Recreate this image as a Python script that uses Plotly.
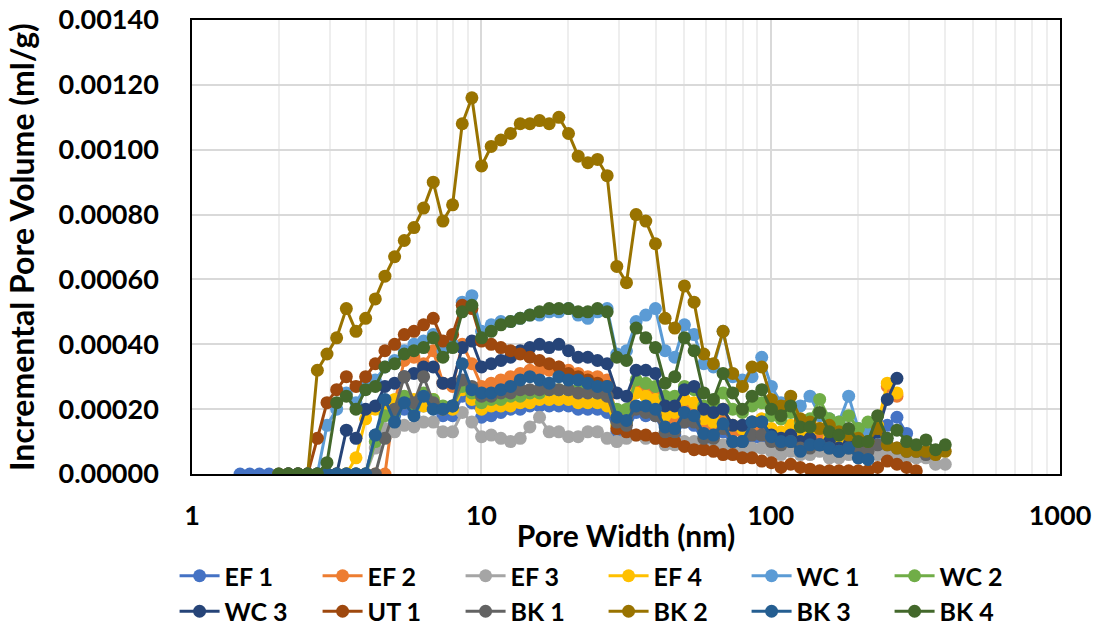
import plotly.graph_objects as go

# Pore width grid (nm) shared by all samples
PORE_WIDTH = [
    1.466, 1.583, 1.710, 1.846, 1.994, 2.153, 2.325, 2.511, 2.712, 2.928,
    3.162, 3.415, 3.688, 3.982, 4.301, 4.644, 5.015, 5.416, 5.849, 6.316,
    6.821, 7.366, 7.955, 8.590, 9.277, 10.018, 10.818, 11.683, 12.617, 13.625,
    14.714, 15.890, 17.160, 18.531, 20.012, 21.611, 23.338, 25.203, 27.217, 29.392,
    31.741, 34.278, 37.017, 39.975, 43.170, 46.620, 50.345, 54.369, 58.713, 63.405,
    68.472, 73.944, 79.853, 86.234, 93.125, 100.57, 108.60, 117.28, 126.65, 136.77,
    147.70, 159.51, 172.25, 186.02, 200.89, 216.94, 234.27, 253.00, 273.21, 295.05,
    318.62, 344.08, 371.58, 401.27,
]

n = None

EF_1 = [0, 0, 0, 0, 0, 0, 0, 0, 0, 0,
        0, 0, 0, 0, 0.00012, 0.00019, 0.00018, 0.00020, 0.00019, 0.00021,
        0.00022, 0.00018, 0.00018, 0.00024, 0.00022, 0.000175, 0.00018, 0.00019, 0.00020, 0.00020,
        0.00021, 0.00021, 0.00021, 0.00021, 0.00021, 0.00020, 0.00020, 0.00020, 0.00019, 0.00013,
        0.00013, 0.00019, 0.00018, 0.00018, 0.00012, 0.00012, 0.00016, 0.00015, 0.00010, 0.00010,
        0.00013, 0.00009, 0.00009, 0.00011, 0.00011, 0.00008, 0.00008, 0.00010, 0.00008, 0.00009,
        0.00010, 0.00008, 0.00008, 0.00009, 0.00006, 0.00005, 0.00012, 0.00015, 0.000175, 0.000125,
        n, n, n, n]

EF_2 = [n, n, n, n, n, 0, 0, 0, 0, 0,
        0, 0, 0, 0, 0, 0, 0.00022, 0.00035, 0.00036, 0.00034,
        0.00038, 0.00028, 0.00027, 0.00040, 0.00034, 0.00027, 0.00028, 0.00029, 0.00030, 0.00031,
        0.00032, 0.00032, 0.00032, 0.00033, 0.00032, 0.00031, 0.00030, 0.00030, 0.00029, 0.00018,
        0.00017, 0.00027, 0.00026, 0.00025, 0.00017, 0.00017, 0.00021, 0.00020, 0.00015, 0.00015,
        0.00017, 0.00013, 0.00013, 0.00014, 0.00014, 0.00012, 0.00011, 0.00013, 0.00011, 0.00011,
        0.00012, 0.00010, 0.00010, 0.00011, 0.00008, 0.00008, 0.00013, 0.00027, 0.00024, n,
        n, n, n, n]

EF_3 = [n, n, n, n, n, 0, 0, 0, 0, 0,
        0, 0, 0, 0, 0.00008, 0.00014, 0.00013, 0.00015, 0.000145, 0.00016,
        0.00016, 0.00013, 0.00013, 0.00019, 0.00016, 0.000115, 0.00012, 0.00011, 0.00010, 0.00011,
        0.000145, 0.000175, 0.00013, 0.00013, 0.000115, 0.000115, 0.00013, 0.00013, 0.00011, 0.00010,
        0.00011, 0.00012, 0.00011, 0.00011, 0.00009, 0.00009, 0.00010, 0.00010, 0.00008, 0.00008,
        0.00009, 0.00007, 0.00007, 0.00008, 0.00008, 0.00007, 0.00006, 0.00007, 0.00006, 0.00006,
        0.00007, 0.00005, 0.00005, 0.00006, 0.00005, 0.00005, 0.00006, 0.00007, 0.00006, 0.00005,
        0.00005, 0.00005, 0.00003, 0.00003]

EF_4 = [n, n, n, n, n, 0, 0, 0, 0, 0,
        0, 0, 0.00005, 0.00017, 0.00020, 0.00021, 0.00023, 0.00022, 0.00023, 0.00021,
        0.00023, 0.00020, 0.00020, 0.00026, 0.00023, 0.00020, 0.00021, 0.00021, 0.00021, 0.00022,
        0.00022, 0.00023, 0.00023, 0.00023, 0.00023, 0.00022, 0.00022, 0.00022, 0.00021, 0.00015,
        0.00016, 0.00025, 0.00024, 0.00023, 0.00018, 0.00019, 0.00023, 0.00022, 0.00017, 0.00016,
        0.00020, 0.00015, 0.00014, 0.00016, 0.00017, 0.00014, 0.00013, 0.00015, 0.00012, 0.00013,
        0.00014, 0.00011, 0.00011, 0.00012, 0.00009, 0.00009, 0.00015, 0.00028, 0.00025, n,
        n, n, n, n]

WC_1 = [n, n, n, n, n, 0, 0, 0, 0, 0.00015,
        0.00020, 0.00025, 0.00022, 0.00027, 0.00029, 0.00033, 0.00035, 0.00038, 0.00040, 0.00041,
        0.00043, 0.00038, 0.00040, 0.00053, 0.00055, 0.00044, 0.00046, 0.00047, 0.00047, 0.00048,
        0.00049, 0.00049, 0.00050, 0.00050, 0.00051, 0.00049, 0.00048, 0.00050, 0.00051, 0.00037,
        0.00038, 0.00047, 0.00049, 0.00051, 0.00038, 0.00036, 0.00046, 0.00043, 0.00034, 0.00033,
        0.00044, 0.00030, 0.00029, 0.00030, 0.00036, 0.00027, 0.00022, 0.00020, 0.00021, 0.00024,
        0.00018, 0.00017, 0.00016, 0.00024, 0.00014, 0.00013, 0.00011, n, n, n,
        n, n, n, n]

WC_2 = [n, n, n, n, n, 0, 0, 0, 0, 0,
        0, 0, 0, 0, 0.00010, 0.00018, 0.00019, 0.00024, 0.00021, 0.00025,
        0.00023, 0.00021, 0.00021, 0.00027, 0.00025, 0.00022, 0.00023, 0.00023, 0.00024, 0.00024,
        0.00025, 0.00025, 0.00026, 0.00026, 0.00026, 0.00026, 0.00026, 0.00025, 0.00025, 0.00020,
        0.00020, 0.00029, 0.00028, 0.00027, 0.00024, 0.00024, 0.00027, 0.00026, 0.00021, 0.00022,
        0.00025, 0.00020, 0.00019, 0.00021, 0.00022, 0.00018, 0.00017, 0.00019, 0.00016, 0.00017,
        0.00023, 0.00017, 0.00016, 0.00018, 0.00014, 0.00016, n, n, n, n,
        n, n, n, n]

WC_3 = [n, n, n, n, n, 0, 0, 0, 0, 0,
        0, 0.000135, 0.00011, 0.00020, 0.00021, 0.00027, 0.00028, 0.00030, 0.00031, 0.00033,
        0.00033, 0.00028, 0.00028, 0.00039, 0.00041, 0.00033, 0.00034, 0.00035, 0.00036, 0.00038,
        0.00039, 0.00040, 0.00039, 0.00040, 0.00038, 0.00036, 0.00036, 0.00035, 0.00034, 0.00025,
        0.00024, 0.00032, 0.00032, 0.00031, 0.00021, 0.00021, 0.00026, 0.00027, 0.00020, 0.00019,
        0.00020, 0.00015, 0.00015, 0.00016, 0.00016, 0.00012, 0.00011, 0.00012, 0.00010, 0.00011,
        0.00009, 0.00010, 0.00008, 0.00009, 0.00007, 0.00008, 0.00013, 0.00023, 0.000295, n,
        n, n, n, n]

UT_1 = [n, n, n, n, n, 0, 0, 0, 0.00011, 0.00022,
        0.00026, 0.00030, 0.00027, 0.00030, 0.00034, 0.00038, 0.00040, 0.00043, 0.00044, 0.00046,
        0.00048, 0.00041, 0.00043, 0.00052, 0.00051, 0.00041, 0.00040, 0.00039, 0.00038, 0.00037,
        0.00036, 0.00035, 0.00034, 0.00033, 0.00031, 0.00030, 0.00029, 0.00028, 0.00027, 0.00014,
        0.00013, 0.00012, 0.00012, 0.00011, 0.00010, 0.00010, 0.000085, 0.000075, 0.000075, 0.00007,
        0.00006, 0.00006, 0.00005, 0.00005, 0.00004, 0.000035, 0.00002, 0.00003, 0.00002, 0.000015,
        0.00001, 0.00001, 0.00001, 0.00001, 0.00001, 0.00001, 0.00002, 0.00004, 0.00003, 0.00002,
        0.00001, n, n, n]

BK_1 = [n, n, n, n, n, 0, 0, 0, 0, 0,
        0, 0, 0, 0, 0, 0.00011, 0.00020, 0.00030, 0.00022, 0.00030,
        0.00022, 0.00020, 0.00021, 0.00029, 0.00027, 0.00024, 0.00024, 0.00025, 0.00025, 0.00026,
        0.00026, 0.00026, 0.00026, 0.00026, 0.00026, 0.00025, 0.00025, 0.00025, 0.00024, 0.00016,
        0.00015, 0.00020, 0.00019, 0.00018, 0.00013, 0.00013, 0.00016, 0.00016, 0.00011, 0.00011,
        0.00014, 0.00010, 0.00010, 0.00012, 0.00012, 0.00010, 0.00009, 0.00010, 0.00008, 0.00008,
        0.00009, 0.00008, 0.00007, 0.00008, 0.00007, 0.00007, 0.00009, 0.00009, 0.00008, 0.00007,
        0.00007, 0.00006, n, n]

BK_2 = [n, n, n, n, 0, 0, 0, 0, 0.00032, 0.00037,
        0.00042, 0.00051, 0.00044, 0.00048, 0.00054, 0.00061, 0.00067, 0.00072, 0.00076, 0.00082,
        0.00090, 0.00078, 0.00083, 0.00108, 0.00116, 0.00095, 0.00101, 0.00103, 0.00105, 0.00108,
        0.00108, 0.00109, 0.00108, 0.00110, 0.00105, 0.00098, 0.00096, 0.00097, 0.00092, 0.00064,
        0.00059, 0.00080, 0.00078, 0.00071, 0.00048, 0.00045, 0.00058, 0.00053, 0.00037, 0.00034,
        0.00044, 0.00031, 0.00027, 0.00033, 0.00033, 0.00023, 0.00021, 0.00024, 0.00017, 0.00016,
        0.00014, 0.00015, 0.00013, 0.00012, 0.00011, 0.00010, 0.00014, 0.00009, 0.00008, 0.00007,
        0.00007, 0.00007, 0.00006, 0.00007]

BK_3 = [n, n, n, n, n, 0, 0, 0, 0, 0,
        0, 0, 0, 0, 0.00012, 0.00023, 0.00016, 0.00022, 0.00018, 0.00024,
        0.00020, 0.00020, 0.00021, 0.00034, 0.00026, 0.00025, 0.00025, 0.00026, 0.00027, 0.00029,
        0.00030, 0.00029, 0.00028, 0.00030, 0.00029, 0.00029, 0.00028, 0.00027, 0.00027, 0.000175,
        0.000165, 0.00021, 0.00021, 0.00020, 0.000145, 0.00014, 0.00019, 0.00018, 0.000125, 0.00012,
        0.000155, 0.00010, 0.00010, 0.00016, 0.00016, 0.000115, 0.00010, 0.00010, 0.00007, 0.00009,
        0.00009, 0.00008, 0.00007, 0.00008, 0.00005, 0.000045, n, n, n, n,
        n, n, n, n]

BK_4 = [n, n, n, n, 0, 0, 0, 0, 0, 0.000035,
        0.00022, 0.00024, 0.00020, 0.00026, 0.00027, 0.00033, 0.00034, 0.00037, 0.00038, 0.00039,
        0.00042, 0.00036, 0.00039, 0.00050, 0.00052, 0.00042, 0.00044, 0.00046, 0.00047, 0.00048,
        0.00049, 0.00050, 0.00051, 0.00051, 0.00051, 0.00050, 0.00050, 0.00051, 0.00050, 0.00036,
        0.00035, 0.00045, 0.00042, 0.00039, 0.00028, 0.00030, 0.00042, 0.00038, 0.00025, 0.00023,
        0.00031, 0.00025, 0.00020, 0.00024, 0.00026, 0.00020, 0.00018, 0.00021, 0.000145, 0.000145,
        0.00019, 0.00013, 0.00012, 0.00014, 0.00010, 0.00010, 0.00018, 0.00011, 0.000135, 0.00010,
        0.00009, 0.000105, 0.000075, 0.00009]

SAMPLES = ["EF 1", "EF 2", "EF 3", "EF 4", "WC 1", "WC 2",
           "WC 3", "UT 1", "BK 1", "BK 2", "BK 3", "BK 4"]
SERIES = [EF_1, EF_2, EF_3, EF_4, WC_1, WC_2, WC_3, UT_1, BK_1, BK_2, BK_3, BK_4]
COLORS = ["#4472C4", "#ED7D31", "#A5A5A5", "#FFC000", "#5B9BD5", "#70AD47",
          "#264478", "#9E480E", "#636363", "#997300", "#255E91", "#43682B"]

FONT = "Lato"
TICK_SIZE = 27
XTITLE_SIZE = 30
YTITLE_SIZE = 32
LEGEND_SIZE = 25

fig = go.Figure()
for name, vals, col in zip(SAMPLES, SERIES, COLORS):
    fig.add_trace(go.Scatter(
        x=PORE_WIDTH, y=vals, name=name, mode="lines+markers",
        line=dict(color=col, width=3),
        marker=dict(color=col, size=13),
    ))

fig.update_layout(
    width=1098, height=632,
    margin=dict(l=192, r=38, t=20, b=158, autoexpand=False),
    paper_bgcolor="white", plot_bgcolor="white",
    font=dict(family=FONT, color="black", size=22, weight="bold"),
    showlegend=True,
    legend=dict(
        orientation="h", xref="container", yref="container",
        x=0.159, y=1 - 553 / 632, xanchor="left", yanchor="top",
        entrywidth=88, entrywidthmode="pixels",
        font=dict(family=FONT, size=LEGEND_SIZE, weight="bold", color="black"),
        itemwidth=40, traceorder="normal", tracegroupgap=0,
        bgcolor="rgba(0,0,0,0)",
    ),
)

fig.update_xaxes(
    type="log", range=[0, 3],
    tickvals=[1, 10, 100, 1000], ticktext=["1", "10", "100", "1000"],
    ticks="", ticklabelstandoff=17,
    tickfont=dict(size=TICK_SIZE, family=FONT, weight="bold"),
    showgrid=True, gridcolor="#d9d9d9", gridwidth=1.5,
    minor=dict(showgrid=True, gridcolor="#eeeeee", gridwidth=1.5, dtick="D1", ticks=""),
    showline=True, linecolor="black", linewidth=2, mirror=True,
    title=dict(text="Pore Width (nm)", font=dict(size=XTITLE_SIZE, family=FONT, weight="bold"), standoff=2),
    zeroline=False,
)
fig.update_yaxes(
    range=[0, 0.0014], dtick=0.0002, tickformat=".5f",
    ticks="", ticklabelstandoff=26,
    tickfont=dict(size=TICK_SIZE, family=FONT, weight="bold"),
    showgrid=True, gridcolor="#d9d9d9", gridwidth=1.5,
    showline=True, linecolor="black", linewidth=1.5, mirror=True,
    title=dict(text="Incremental Pore Volume (ml/g)", font=dict(size=YTITLE_SIZE, family=FONT, weight="bold"), standoff=14),
    zeroline=False,
)

fig.write_html("out.html")
